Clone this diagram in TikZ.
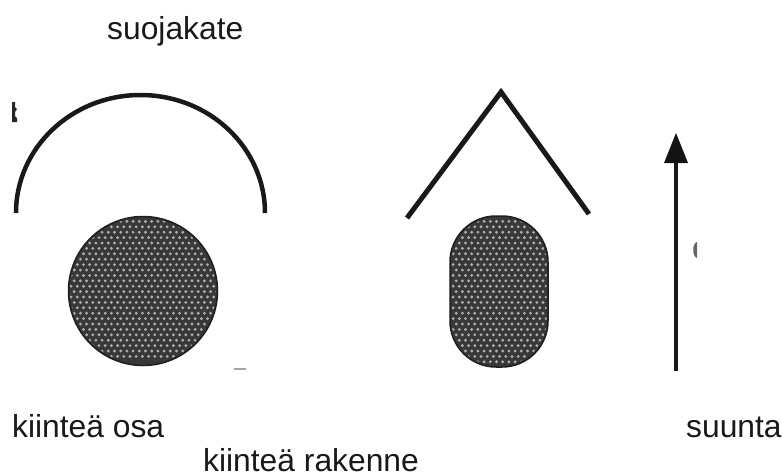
\documentclass[tikz,border=0pt]{standalone}
\usepackage{fontspec}
\setmainfont{Liberation Sans}
\begin{document}
\begin{tikzpicture}[x=1pt,y=-1pt,
  lbl/.style={anchor=base west,inner sep=0pt,font=\fontsize{31.8pt}{34pt}\selectfont,text=black!90},
  stroke/.style={line width=4.5pt,draw=black!90},
  solid body/.style={fill=black!78,draw=black!88,line width=1.5pt},
  screen dot/.style={fill=black!32,draw=none}]
\useasboundingbox (0,0) rectangle (782,475);
% shields
\draw[stroke] (16,213) arc[start angle=180,end angle=360,x radius=124.5,y radius=118];
\draw[stroke,line width=5pt,line join=miter] (407,218) -- (501,92) -- (589,214);
% solid parts
\path[solid body] (143,291) circle[radius=74.5];
\begin{scope}
  \clip (143,291) circle[radius=73];
  \foreach \r in {0,...,26}{\foreach \c in {0,...,26}{
    \pgfmathsetmacro{\px}{68+\c*6.2+mod(\r,2)*3.1}
    \pgfmathsetmacro{\py}{216+\r*5.4}
    \fill[screen dot] (\px,\py) circle[radius=1.6];}}
\end{scope}
\path[solid body,rounded corners=46pt] (450,216) rectangle (548,367);
\begin{scope}
  \clip[rounded corners=45pt] (451.5,217.5) rectangle (546.5,365.5);
  \foreach \r in {0,...,28}{\foreach \c in {0,...,17}{
    \pgfmathsetmacro{\px}{450+\c*6.2+mod(\r,2)*3.1}
    \pgfmathsetmacro{\py}{216+\r*5.4}
    \fill[screen dot] (\px,\py) circle[radius=1.6];}}
\end{scope}
% direction arrow
\coordinate (arrowfoot) at (676,371);
\coordinate (arrowneck) at (676,161);
\draw[line width=3.8pt,draw=black!90] (arrowfoot) -- (arrowneck);
\fill[black!92] (676,133) -- (688,163) -- (664,163) -- cycle;
% scan fragments
\fill[black!85] (12,102) -- (15,102) -- (15,107) -- (17,109) -- (15,112) -- (15,116) -- (17,118) -- (17,122) -- (12,122) -- cycle;
\fill[black!60] (697,242) .. controls (692,243) and (692,257) .. (697,258) -- cycle;
\fill[black!35] (234,368) rectangle (246,370);
% labels
\node[lbl] (cover) at (107,39) {suojakate};
\node[lbl] (part) at (12,437) {kiinteä osa};
\node[lbl] (structure) at (203,471.5) {kiinteä rakenne};
\node[lbl] (direction) at (686,437) {suunta};
\end{tikzpicture}
\end{document}
